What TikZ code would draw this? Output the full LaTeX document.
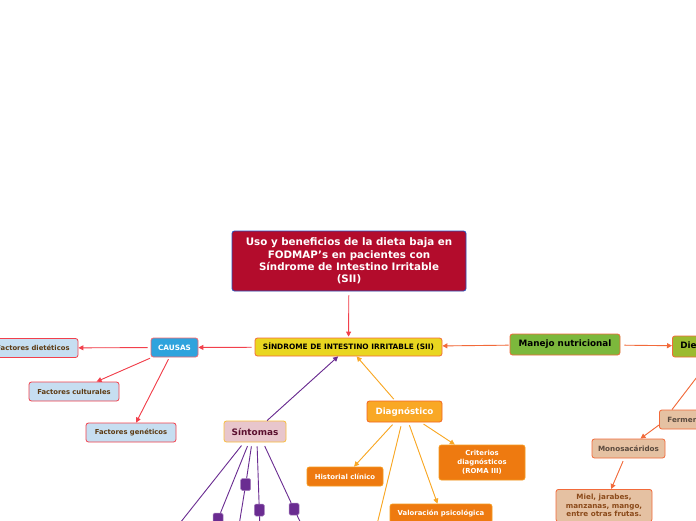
\documentclass[tikz,border=0pt]{standalone}
\usepackage{fontspec}
\setmainfont{DejaVu Sans}
\usetikzlibrary{arrows.meta}
\definecolor{fmcrimson}{HTML}{B30C2C}
\definecolor{fmblue}{HTML}{2452BE}
\definecolor{fmyellow}{HTML}{E9D620}
\definecolor{fmsky}{HTML}{2EA3DD}
\definecolor{fmpale}{HTML}{C6DEF1}
\definecolor{fmred}{HTML}{F2404C}
\definecolor{fmbrown}{HTML}{5C3A12}
\definecolor{fmrose}{HTML}{E8C6CC}
\definecolor{fmgold}{HTML}{F8BE3E}
\definecolor{fmmaroon}{HTML}{5A0F2E}
\definecolor{fmamber}{HTML}{F9A825}
\definecolor{fmrust}{HTML}{F26522}
\definecolor{fmorange}{HTML}{EE7A10}
\definecolor{fmgreen}{HTML}{7CB83C}
\definecolor{fmolive}{HTML}{9CBB2F}
\definecolor{fmcoral}{HTML}{F26A3A}
\definecolor{fmtan}{HTML}{E5C1A2}
\definecolor{fmgrey}{HTML}{5A4A3E}
\definecolor{fmumber}{HTML}{8B4A1A}
\definecolor{fmpurple}{HTML}{6A2C91}

\begin{document}
\begin{tikzpicture}[x=1pt,y=-1pt,
  box/.style={draw, rounded corners=2.5pt, line width=0.8pt, inner sep=0pt, align=center},
  cause/.style={box, fill=fmpale, draw=fmred, text=fmbrown, minimum width=90pt, minimum height=19pt,
    font=\fontsize{6.8}{7}\selectfont\bfseries},
  diag/.style={box, fill=fmorange, draw=fmamber!70!fmorange, text=white,
    font=\fontsize{6.9}{9}\selectfont\bfseries},
  food/.style={box, fill=fmtan, draw=fmcoral, text=fmgrey, minimum height=19pt,
    font=\fontsize{7.2}{8.4}\selectfont\bfseries},
  tip/.style={-{Triangle[length=5pt,width=5pt]}},
  redline/.style={tip, draw=fmred, fill=fmred, line width=0.9pt},
  coralline/.style={tip, draw=fmcoral, fill=fmcoral, line width=0.9pt},
  amberline/.style={tip, draw=fmamber, fill=fmamber, line width=0.9pt},
  purpline/.style={draw=fmpurple, line width=0.9pt},
  knot/.style={box, rounded corners=1.5pt, fill=fmpurple, draw=fmpurple!60, line width=0.5pt,
    minimum width=10pt, minimum height=12pt}]
  \useasboundingbox (0,0) rectangle (696,520);
  \clip (0,0) rectangle (696,520);
  \fill[white] (0,0) rectangle (696,520);

  % centre
  \node[box, fill=fmcrimson, draw=fmblue, text=white, minimum width=234pt, minimum height=60pt,
    font=\fontsize{10.3}{12.3}\selectfont\bfseries] (title) at (349,261)
    {Uso y beneficios de la dieta baja en\\FODMAP's en pacientes con\\S\'indrome de Intestino Irritable\\(SII)};
  \node[box, fill=fmyellow, draw=fmcoral, minimum width=187pt, minimum height=18pt,
    font=\fontsize{7.4}{8}\selectfont\bfseries] (sii) at (348.5,347) {S\'INDROME DE INTESTINO IRRITABLE (SII)};

  % causas
  \node[box, fill=fmsky, draw=fmred!80, text=white, minimum width=47pt, minimum height=19pt,
    font=\fontsize{7.3}{8}\selectfont\bfseries] (causas) at (174.5,347.5) {CAUSAS};
  \node[cause] (dietet) at (33,348) {Factores diet\'eticos};
  \node[cause] (cultur) at (74,391.5) {Factores culturales};
  \node[cause] (genet) at (131,432.5) {Factores gen\'eticos};

  % sintomas
  \node[box, fill=fmrose, draw=fmgold, text=fmmaroon, minimum width=62pt, minimum height=21pt,
    font=\fontsize{8.9}{10}\selectfont\bfseries] (sint) at (255,431.5) {S\'intomas};

  % diagnostico
  \node[box, fill=fmamber, draw=fmrust, text=white, minimum width=75pt, minimum height=21pt,
    font=\fontsize{8.7}{10}\selectfont\bfseries] (diagn) at (404.5,411.5) {Diagn\'ostico};
  \node[diag, minimum width=76pt, minimum height=19pt] (histor) at (345,476.5) {Historial cl\'inico};
  \node[diag, minimum width=86pt, minimum height=35pt] (roma) at (482,462.5) {Criterios\\diagn\'osticos\\(ROMA III)};
  \node[diag, minimum width=102pt, minimum height=19pt] (psico) at (441,513.5) {Valoraci\'on psicol\'ogica};
  \coordinate (diagoff) at (372,545);

  % manejo nutricional
  \node[box, fill=fmgreen, draw=fmcoral, minimum width=110pt, minimum height=21pt,
    font=\fontsize{8.8}{10}\selectfont\bfseries] (manejo) at (565,344.5) {Manejo nutricional};
  \node[box, fill=fmolive, draw=fmcoral, anchor=west, minimum height=21pt, inner xsep=8pt,
    font=\fontsize{8.8}{10}\selectfont\bfseries] (dieta) at (672,346.5) {Dieta baja en FODMAP's};
  \node[food, anchor=west, inner xsep=8pt] (ferment) at (659,419.5) {Fermentables};
  \node[food, minimum width=73pt] (monos) at (628.5,448.5) {Monosac\'aridos};
  \node[food, anchor=north, minimum width=96pt, inner ysep=5pt, text=fmumber] (miel) at (604,489)
    {Miel, jarabes,\\manzanas, mango,\\entre otras frutas.};

  % connectors
  \draw[redline, shorten <=4pt, shorten >=1pt] (title) -- (sii);
  \draw[redline, shorten <=3pt] (sii) -- (causas);
  \draw[redline, shorten <=3pt] (causas) -- (dietet);
  \draw[redline, shorten <=2pt] (causas) -- (cultur);
  \draw[redline, shorten <=2pt] (causas) -- (genet);
  \draw[coralline, shorten <=1pt] (manejo) -- (sii);
  \draw[coralline, shorten <=4pt] (manejo) -- (dieta);
  \draw[coralline, -] ([xshift=40pt]dieta.south west) -- ([xshift=13pt]ferment.north west);
  \draw[coralline] ([yshift=-5.5pt]ferment.west) -- ([xshift=12pt]monos.north);
  \draw[coralline, shorten <=3pt] (monos) -- (miel);
  \draw[tip, draw=fmpurple, fill=fmpurple, line width=0.9pt] (sint) -- (sii);
  \draw[amberline, shorten <=2pt] (diagn) -- (sii);
  \draw[amberline, shorten <=3pt] (diagn) -- (histor);
  \draw[amberline, shorten <=3pt] (diagn) -- (roma);
  \draw[amberline, shorten <=3pt] (diagn) -- (psico);
  \draw[amberline, -, shorten <=4pt] (diagn) -- (diagoff);

  % sintomas branches
  \coordinate (sintend) at (166.5,540);
  \draw[purpline, shorten <=4pt] ([xshift=-11pt]sint.south) -- (sintend);
  \foreach \i/\sx/\kx/\ky/\ex in {1/-6/218/519/209, 2/-3/245.7/484.5/236.6,
                                  3/2/259.3/510/260.4, 4/8/294/509/309}{
    \node[knot] (knot\i) at (\kx,\ky) {};
    \coordinate (knotend\i) at (\ex,540);
    \draw[purpline, shorten <=4pt] ([xshift=\sx pt]sint.south) -- (knot\i);
    \draw[purpline] (knot\i) -- (knotend\i);
  }
\end{tikzpicture}
\end{document}
